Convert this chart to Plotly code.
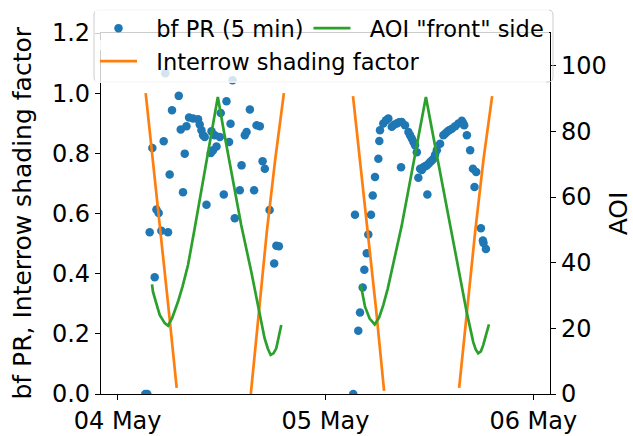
import pandas as pd
import plotly.graph_objects as go

BASE = pd.Timestamp("2020-05-04 00:00")

# ---- bf PR (5 min) scatter: hours since 04 May 00:00, value ----
pr_hours = [3.20, 3.43, 3.70, 4.01, 4.28, 4.48, 4.74, 5.05, 5.32, 5.51, 5.82, 6.01, 6.28,
            7.06, 7.29, 7.55, 7.75, 7.95, 8.25, 8.71, 9.29, 9.48, 9.68, 9.87, 10.06, 10.26,
            10.76, 10.84, 11.02, 11.22, 11.42, 11.80, 11.91, 12.26, 12.57, 12.87, 13.04,
            13.27, 13.53, 14.11, 14.31, 14.69, 14.89, 15.27, 15.76, 16.04, 16.42, 16.74,
            17.00, 17.55, 18.08, 18.33, 18.62,
            27.21, 27.41, 27.79, 27.99, 28.30, 28.49, 28.77, 28.95, 29.26, 29.46, 29.72,
            30.11, 30.22, 30.30, 30.68, 31.00, 31.26, 31.66, 31.92, 32.23, 32.50, 32.73,
            32.81, 33.19, 33.58, 33.77, 33.97, 34.16, 34.35, 34.55, 34.73, 34.93, 35.13,
            35.31, 35.51, 35.70, 35.77, 35.91, 36.09, 36.28, 36.47, 36.66, 36.86, 37.24,
            37.62, 37.82, 38.02, 38.28, 38.60, 38.98, 39.36, 39.75, 39.90, 40.02, 40.33,
            40.71, 41.03, 41.21, 41.41, 41.95, 42.18, 42.25, 42.53]
pr_values = [0.00, 0.00, 0.538, 0.818, 0.388, 0.613, 0.602, 0.543, 0.840, 1.066, 0.538, 0.730, 0.943,
             0.991, 0.879, 0.671, 0.799, 0.890, 0.919, 0.916, 0.913, 0.896, 0.877, 0.860, 0.854, 0.629,
             0.801, 0.873, 0.810, 0.860, 0.823, 0.854, 0.934, 0.663, 0.973, 0.838, 0.898,
             1.043, 0.584, 0.677, 0.760, 0.860, 0.871, 0.946, 0.677, 0.893, 0.890, 0.774,
             0.749, 0.612, 0.434, 0.493, 0.491,
             0.00, 0.596, 0.210, 0.271, 0.354, 0.413, 0.468, 0.530, 0.596, 0.660, 0.721,
             0.782, 0.841, 0.877, 0.899, 0.910, 0.916, 0.888, 0.895, 0.899, 0.903, 0.754,
             0.904, 0.893, 0.871, 0.860, 0.849, 0.838, 0.827, 0.804, 0.719, 0.749, 0.745,
             0.754, 0.757, 0.760, 0.663, 0.765, 0.771, 0.776, 0.782, 0.795, 0.810, 0.832,
             0.860, 0.865, 0.871, 0.877, 0.882, 0.890, 0.899, 0.908, 0.900, 0.893, 0.860,
             0.810, 0.749, 0.688, 0.738, 0.551, 0.510, 0.502, 0.482]

# ---- Interrow shading factor (None = gap) ----
shade_hours = [3.24, 4.10, 4.97, 5.90, 6.82, None,
               15.38, 16.30, 17.23, 18.20, 19.20, None,
               27.18, 28.05, 28.95, 29.85, 30.77, None,
               39.44, 40.35, 41.29, 42.25, 43.25]
shade_values = [1.00, 0.77, 0.54, 0.28, 0.02, None,
                0.00, 0.27, 0.54, 0.78, 1.00, None,
                0.99, 0.76, 0.54, 0.28, 0.01, None,
                0.02, 0.28, 0.54, 0.78, 0.99]

# ---- AOI "front" side (degrees, right axis) ----
aoi_hours = [3.97, 4.08, 4.50, 4.86, 5.44, 5.82, 6.30, 6.97, 7.50, 8.13, 8.90, 9.50, 10.20,
             10.90, 11.57, 12.30, 13.00, 13.60, 14.27, 15.43, 16.20, 16.97, 17.35, 17.67,
             18.00, 18.32, 18.90, None,
             28.07, 28.57, 29.10, 29.69, 30.20, 30.68, 31.20, 31.80, 32.78, 33.50, 34.20,
             34.90, 35.60, 36.30, 37.00, 37.70, 38.40, 39.52, 40.30, 41.06, 41.35, 41.64,
             41.95, 42.22, 42.88]
aoi_values = [33.4, 31.2, 27.3, 24.1, 21.6, 20.8, 23.2, 28.1, 32.8, 39.3, 50.5, 59.2, 69.6,
              80.0, 90.5, 79.6, 69.6, 60.5, 51.5, 37.3, 27.1, 17.0, 13.8, 11.9,
              12.4, 13.9, 21.0, None,
              33.4, 26.6, 23.0, 21.2, 23.3, 27.1, 32.2, 39.3, 51.0, 61.0, 70.8,
              80.6, 90.5, 80.6, 70.8, 60.9, 51.0, 36.3, 25.1, 15.9, 13.6, 12.4,
              13.0, 14.9, 21.2]

x_ticks = ["2020-05-04", "2020-05-05", "2020-05-06"]
x_ticklabels = ["04 May", "05 May", "06 May"]
left_ticks = [0.0, 0.2, 0.4, 0.6, 0.8, 1.0, 1.2]
right_ticks = [0, 20, 40, 60, 80, 100]


def to_time(hours):
    return [None if h is None else BASE + pd.Timedelta(hours=h) for h in hours]


BLUE, ORANGE, GREEN = "#1f77b4", "#ff7f0e", "#2ca02c"
FONT = "DejaVu Sans"
FS_LEG = 22.5
FS_TICK = 24
FS_TITLE = 25
NB = "\u00a0\u00a0"
PAD = "\u00a0" * 17

fig = go.Figure()
fig.add_trace(go.Scatter(x=to_time(pr_hours), y=pr_values, mode="markers",
                         marker=dict(color=BLUE, size=8.5), name=NB + "bf PR (5 min)",
                         legend="legend", legendrank=1))
fig.add_trace(go.Scatter(x=to_time(shade_hours), y=shade_values, mode="lines",
                         line=dict(color=ORANGE, width=2.7),
                         name=NB + "Interrow shading factor" + PAD,
                         connectgaps=False, legend="legend2"))
fig.add_trace(go.Scatter(x=to_time(aoi_hours), y=aoi_values, mode="lines", yaxis="y2",
                         line=dict(color=GREEN, width=2.7), name=NB + 'AOI "front" side',
                         connectgaps=False, legend="legend", legendrank=2))

# plot area: x 101..550 px, y 33..394 px
W, H = 633, 436
L, R, T, B = 101, 83, 33, 42
pw, ph = W - L - R, H - T - B


def px(x):
    return (x - L) / pw


def py(y):
    return (H - B - y) / ph


axis_common = dict(showgrid=False, zeroline=False, showline=True, linecolor="black",
                   linewidth=1.2, ticks="outside", ticklen=5, tickwidth=1.2,
                   tickcolor="black", tickfont=dict(family=FONT, size=FS_TICK, color="black"))

leg_common = dict(orientation="h", bgcolor="rgba(255,255,255,0.8)", borderwidth=0,
                  font=dict(family=FONT, size=FS_LEG, color="black"),
                  xanchor="left", yanchor="top", itemwidth=37, traceorder="normal")

# rounded legend frame (outline only)
x0, x1, y0, y1 = px(94), px(553), py(82), py(10)
rx, ry = 5 / pw, 5 / ph
frame = (f"M{x0+rx},{y0} L{x1-rx},{y0} Q{x1},{y0} {x1},{y0+ry} L{x1},{y1-ry} "
         f"Q{x1},{y1} {x1-rx},{y1} L{x0+rx},{y1} Q{x0},{y1} {x0},{y1-ry} "
         f"L{x0},{y0+ry} Q{x0},{y0} {x0+rx},{y0} Z")

fig.update_layout(
    width=W, height=H,
    margin=dict(l=L, r=R, t=T, b=B, autoexpand=False),
    paper_bgcolor="white", plot_bgcolor="white",
    font=dict(family=FONT, size=FS_LEG, color="black"),
    xaxis=dict(**axis_common, mirror=True, type="date",
               range=[BASE - pd.Timedelta(hours=1.92), BASE + pd.Timedelta(hours=49.93)],
               tickvals=x_ticks, ticktext=x_ticklabels),
    yaxis=dict(**axis_common, range=[0, 1.2], tickvals=left_ticks, tickformat=".1f"),
    yaxis2=dict(**axis_common, overlaying="y", side="right", range=[0, 110],
                tickvals=right_ticks,
                title=dict(text="AOI", font=dict(family=FONT, size=FS_TITLE), standoff=4)),
    annotations=[dict(text="bf PR, Interrow shading factor", textangle=-90,
                      xref="paper", yref="paper", x=px(22), y=0.5,
                      xanchor="center", yanchor="middle", showarrow=False,
                      font=dict(family=FONT, size=FS_TITLE, color="black"))],
    showlegend=True,
    legend=dict(**leg_common, x=px(95), y=py(7)),
    legend2=dict(**leg_common, x=px(95), y=py(40)),
    shapes=[dict(type="path", xref="paper", yref="paper", path=frame, layer="above",
                 fillcolor="rgba(0,0,0,0)", line=dict(color="#cccccc", width=1))],
)

fig.write_html("out.html")
